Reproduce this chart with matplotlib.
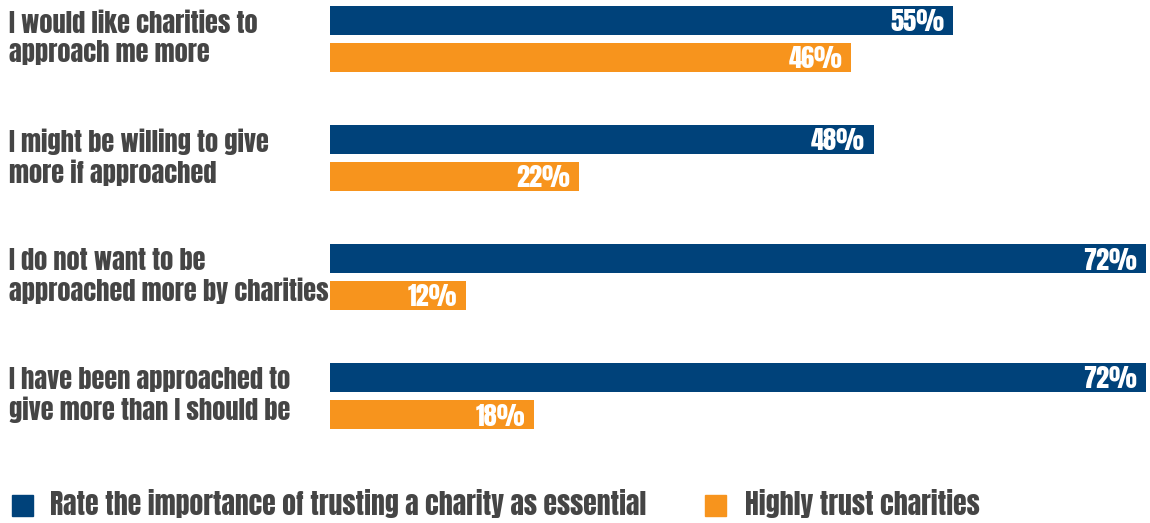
import matplotlib
matplotlib.use("Agg")
import matplotlib.pyplot as plt
from matplotlib.patches import Rectangle

categories = [
    "I would like charities to\napproach me more",
    "I might be willing to give\nmore if approached",
    "I do not want to be\napproached more by charities",
    "I have been approached to\ngive more than I should be",
]
essential_trust = [55, 48, 72, 72]
high_trust = [46, 22, 12, 18]
series_names = ["Rate the importance of trusting a charity as essential",
                "Highly trust charities"]

BLUE = "#00427a"
ORANGE = "#f7941d"
TEXT = "#454545"
FONT = dict(family=["Anton", "Oswald", "League Gothic", "DejaVu Sans"])

W, H = 1150, 523
fig = plt.figure(figsize=(W / 100, H / 100), dpi=100)
ax = fig.add_axes([330 / W, 0, (1146 - 330) / W, 1])
ax.set_xlim(0, 72)
ax.set_ylim((H - 39) / 119, -39 / 119)
ax.axis("off")

bar_h = 29 / 119
off = 18.5 / 119
ys = list(range(len(categories)))
ax.barh([y - off for y in ys], essential_trust, height=bar_h, color=BLUE)
ax.barh([y + off for y in ys], high_trust, height=bar_h, color=ORANGE)

for y, v in zip(ys, essential_trust):
    ax.text(v - 0.8, y - off, f"{v}%", ha="right", va="center_baseline",
            color="white", fontsize=19, **FONT)
for y, v in zip(ys, high_trust):
    ax.text(v - 0.8, y + off, f"{v}%", ha="right", va="center_baseline",
            color="white", fontsize=19, **FONT)

for y, label in zip(ys, categories):
    ax.text(9 / W, 1 - (38 + 119 * y) / H, label, transform=fig.transFigure,
            ha="left", va="center", color=TEXT, fontsize=19,
            linespacing=1.2, **FONT)

# legend along the bottom
leg_y = 504
for x0, x_txt, color, name in [(12, 50, BLUE, series_names[0]),
                               (705, 745, ORANGE, series_names[1])]:
    fig.patches.append(Rectangle((x0 / W, 1 - 516 / H), 21 / W, 21 / H,
                                 transform=fig.transFigure, color=color))
    fig.text(x_txt / W, 1 - leg_y / H, name, ha="left", va="center",
             color=TEXT, fontsize=20, **FONT)

fig.savefig("out.png", dpi=100, facecolor="white")
